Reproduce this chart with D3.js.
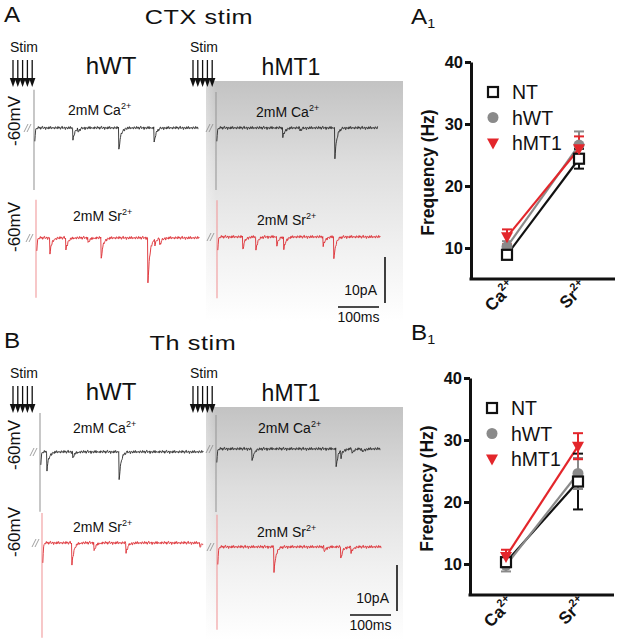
<!DOCTYPE html>
<html><head><meta charset="utf-8">
<script src="https://cdn.jsdelivr.net/npm/d3@7"></script>
<style>
body{margin:0;background:#fff;}
svg text{font-family:"Liberation Sans",Arial,Helvetica,sans-serif;}
</style></head>
<body>
<svg id="fig" width="618" height="640"></svg>
<script>
// ---------------- DATA ----------------
const categories = ["Ca", "Sr"];
const seriesNames = ["NT", "hWT", "hMT1"];
const yTicks = [10, 20, 30, 40];

// A1 (CTX stim) frequency, Hz
const a1NT = [8.9, 24.4];     const a1NTErr = [0.5, 1.6];
const a1hWT = [10.2, 26.6];   const a1hWTErr = [0.9, 2.2];
const a1hMT1 = [11.8, 26.0];  const a1hMT1Err = [1.2, 2.0];
// B1 (Th stim) frequency, Hz
const b1NT = [10.3, 23.3];    const b1NTErr = [0.6, 4.5];
const b1hWT = [9.8, 24.6];    const b1hWTErr = [1.0, 2.5];
const b1hMT1 = [11.2, 29.0];  const b1hMT1Err = [1.1, 2.1];

// example traces: events [time ms, amplitude pA]
const evA_hWT_Ca = [[95, 2.6], [107, 0.8], [207, 4.8], [293, 3.3]];
const evA_hWT_Sr = [[34, 3.3], [73, 2.6], [127, 1.1], [159, 4.6], [273, 9.8], [290, 1.2], [302, 1.5]];
const evA_hMT1_Ca = [[163, 2.2], [205, 0.6], [290, 6.5]];
const evA_hMT1_Sr = [[63, 2.8], [95, 2.8], [146, 1.8], [163, 2.8], [259, 2.2], [285, 4.8]];
const evB_hWT_Ca = [[17, 3.9], [80, 1.3], [193, 6.1]];
const evB_hWT_Sr = [[73, 4.8], [127, 1.8], [205, 2.2], [385, 0.9]];
const evB_hMT1_Ca = [[88, 2.8], [293, 4.1], [305, 1.5], [332, 1.0], [356, 0.8]];
const evB_hMT1_Sr = [[139, 5.4], [261, 1.1], [302, 2.6], [327, 1.3]];
// stimulus artifact [peak up pA, peak down pA], trace length ms
const artA_hWT_Ca = [8.3, -13.5];  const lenA_hWT_Ca = 400;
const artA_hWT_Sr = [8.3, -13.0];  const lenA_hWT_Sr = 398;
const artA_hMT1_Ca = [7.8, -13.5]; const lenA_hMT1_Ca = 395;
const artA_hMT1_Sr = [8.0, -13.3]; const lenA_hMT1_Sr = 398;
const artB_hWT_Ca = [8.5, -13.0];  const lenB_hWT_Ca = 398;
const artB_hWT_Sr = [6.5, -20.6];  const lenB_hWT_Sr = 393;
const artB_hMT1_Ca = [7.4, -13.7]; const lenB_hMT1_Ca = 400;
const artB_hMT1_Sr = [7.0, -18.0]; const lenB_hMT1_Sr = 400;
// baseline noise (pA), typed sample
const noise = [0.1, -0.2, 0.25, 0.05, -0.15, 0.3, -0.05, 0.2, -0.25, 0.1, 0.35, -0.1, 0.0, 0.2, -0.3, 0.15, 0.05, -0.2, 0.25, -0.1, 0.3, -0.15, 0.1, -0.05];
const stimPulses = [0, 1, 2, 3, 4];
const scaleBarPA = 10, scaleBarMs = 100;

// ---------------- DRAW ----------------
const svg = d3.select("#fig");
const defs = svg.append("defs");
const grad = defs.append("linearGradient").attr("id", "gbox").attr("x1", 0).attr("y1", 0).attr("x2", 0).attr("y2", 1);
grad.append("stop").attr("offset", "0%").attr("stop-color", "#c3c3c3");
grad.append("stop").attr("offset", "35%").attr("stop-color", "#dedede");
grad.append("stop").attr("offset", "70%").attr("stop-color", "#f1f1f1");
grad.append("stop").attr("offset", "100%").attr("stop-color", "#ffffff");
const gradL = defs.append("linearGradient").attr("id", "gedge").attr("x1", 0).attr("y1", 0).attr("x2", 1).attr("y2", 0);
gradL.append("stop").attr("offset", "0%").attr("stop-color", "#ffffff").attr("stop-opacity", 0.3);
gradL.append("stop").attr("offset", "100%").attr("stop-color", "#ffffff").attr("stop-opacity", 0);

const msScale = d3.scaleLinear().domain([0, scaleBarMs]).range([0, 41]);
const pAScale = d3.scaleLinear().domain([0, scaleBarPA]).range([0, 46]);

function txt(g, x, y, s, size, opts = {}) {
  const t = g.append("text").attr("font-size", size).attr("fill", opts.fill || "#111");
  if (opts.sx) t.attr("transform", `translate(${x},${y}) scale(${opts.sx},1)`);
  else t.attr("x", x).attr("y", y);
  if (opts.anchor) t.attr("text-anchor", opts.anchor);
  if (opts.weight) t.attr("font-weight", opts.weight);
  if (opts.ls) t.attr("letter-spacing", opts.ls);
  if (opts.transform) t.attr("transform", opts.transform);
  return t.text(s);
}
function supText(g, x, y, base, sup, size, supSize, opts = {}) {
  const t = g.append("text").attr("x", x).attr("y", y).attr("font-size", size).attr("fill", "#111");
  if (opts.weight) t.attr("font-weight", opts.weight);
  if (opts.anchor) t.attr("text-anchor", opts.anchor);
  if (opts.transform) t.attr("transform", opts.transform);
  t.append("tspan").text(base);
  t.append("tspan").attr("font-size", supSize).attr("dy", -size * 0.42).text(sup);
  return t;
}

function stim(g, x, y) {
  txt(g, x - 3, y - 4, "Stim", 14);
  stimPulses.forEach(i => {
    const xi = x + i * 4.8;
    g.append("line").attr("x1", xi).attr("x2", xi).attr("y1", y + 4).attr("y2", y + 23).attr("stroke", "#111").attr("stroke-width", 1.3);
    g.append("path").attr("d", `M${xi - 3.2},${y + 22} L${xi + 3.2},${y + 22} L${xi},${y + 31} Z`).attr("fill", "#111");
  });
}

function trace(g, x0, baseY, events, art, len, color, artColor) {
  const y = v => baseY + pAScale(-v);
  g.append("line").attr("x1", x0).attr("x2", x0).attr("y1", y(art[0])).attr("y2", y(art[1]))
    .attr("stroke", artColor).attr("stroke-width", 1.1);
  const pts = [];
  for (let t = 2; t <= len; t += 1) {
    let v = noise[Math.floor(t / 2) % noise.length];
    v += art[1] * 0.2 * Math.exp(-(t - 2) / 1.5);
    events.forEach(([te, a]) => {
      if (t >= te) v -= a * Math.exp(-(t - te) / 5);
    });
    pts.push([x0 + msScale(t), y(v)]);
  }
  g.append("path").attr("d", d3.line()(pts)).attr("fill", "none").attr("stroke", color).attr("stroke-width", 0.9);
  [-8, -5].forEach(dx => {
    g.append("line").attr("x1", x0 + dx - 2).attr("y1", baseY + 4).attr("x2", x0 + dx + 2).attr("y2", baseY - 4)
      .attr("stroke", "#888").attr("stroke-width", 0.8);
  });
}

function scaleBar(g, xRight, yTop) {
  g.append("line").attr("x1", xRight).attr("x2", xRight).attr("y1", yTop).attr("y2", yTop + pAScale(scaleBarPA))
    .attr("stroke", "#111").attr("stroke-width", 1.6);
  const yb = yTop + pAScale(scaleBarPA) + 4;
  g.append("line").attr("x1", xRight - 6 - msScale(scaleBarMs)).attr("x2", xRight - 6).attr("y1", yb).attr("y2", yb)
    .attr("stroke", "#111").attr("stroke-width", 1.6);
  txt(g, xRight - 8, yTop + 38, scaleBarPA + "pA", 14, { anchor: "end" });
  txt(g, xRight - 6 - msScale(scaleBarMs) / 2, yb + 15, scaleBarMs + "ms", 14, { anchor: "middle" });
}

function tracePanel(dy, letter, title, titleX, tr, boxH) {
  const g = svg.append("g");
  txt(g, 4, 22 + dy, letter, 22, { sx: 1.1 });
  txt(g, titleX, 24 + dy, title, 21, { anchor: "middle", sx: 1.2, ls: 0.5 });
  g.append("rect").attr("x", 206).attr("y", 81 + dy).attr("width", 197).attr("height", boxH).attr("fill", "url(#gbox)");
  g.append("rect").attr("x", 206).attr("y", 81 + dy).attr("width", 10).attr("height", boxH).attr("fill", "url(#gedge)");
  stim(g, 13, 56 + dy);
  stim(g, 193, 56 + dy);
  txt(g, 111, 74 + dy, "hWT", 24, { anchor: "middle" });
  txt(g, 291, 75 + dy, "hMT1", 23, { anchor: "middle" });
  tr.forEach(d => {
    trace(g, d.x0, d.y, d.ev, d.art, d.len, d.color, d.artColor);
    supText(g, d.tx, d.ty, d.label, d.sup, 14, 9);
  });
  txt(g, 0, 0, "-60mV", 17, { anchor: "middle", transform: `translate(20,${tr[0].y - 7}) rotate(-90)` });
  txt(g, 0, 0, "-60mV", 17, { anchor: "middle", transform: `translate(20,${tr[1].y - 11}) rotate(-90)` });
  return g;
}

const blk = "#2a2a2a", blkArt = "#9a9a9a", red = "#dd2a30", redArt = "#f09a9c";
const gA = tracePanel(0, "A", "CTX stim", 199, [
  { x0: 34, y: 128, ev: evA_hWT_Ca, art: artA_hWT_Ca, len: lenA_hWT_Ca, color: blk, artColor: blkArt, tx: 68, ty: 115, label: "2mM Ca", sup: "2+" },
  { x0: 36, y: 238, ev: evA_hWT_Sr, art: artA_hWT_Sr, len: lenA_hWT_Sr, color: red, artColor: redArt, tx: 73, ty: 221, label: "2mM Sr", sup: "2+" },
  { x0: 216, y: 128, ev: evA_hMT1_Ca, art: artA_hMT1_Ca, len: lenA_hMT1_Ca, color: blk, artColor: blkArt, tx: 256, ty: 117, label: "2mM Ca", sup: "2+" },
  { x0: 217, y: 237, ev: evA_hMT1_Sr, art: artA_hMT1_Sr, len: lenA_hMT1_Sr, color: red, artColor: redArt, tx: 257, ty: 225, label: "2mM Sr", sup: "2+" }
], 240);
scaleBar(gA, 385, 257);

const gB = tracePanel(326, "B", "Th stim", 193, [
  { x0: 40, y: 452, ev: evB_hWT_Ca, art: artB_hWT_Ca, len: lenB_hWT_Ca, color: blk, artColor: blkArt, tx: 73, ty: 433, label: "2mM Ca", sup: "2+" },
  { x0: 42, y: 543, ev: evB_hWT_Sr, art: artB_hWT_Sr, len: lenB_hWT_Sr, color: red, artColor: redArt, tx: 73, ty: 532, label: "2mM Sr", sup: "2+" },
  { x0: 216, y: 449, ev: evB_hMT1_Ca, art: artB_hMT1_Ca, len: lenB_hMT1_Ca, color: blk, artColor: blkArt, tx: 258, ty: 433, label: "2mM Ca", sup: "2+" },
  { x0: 217, y: 547, ev: evB_hMT1_Sr, art: artB_hMT1_Sr, len: lenB_hMT1_Sr, color: red, artColor: redArt, tx: 257, ty: 537, label: "2mM Sr", sup: "2+" }
], 233);
scaleBar(gB, 397, 565);

// ---------------- LINE CHARTS ----------------
const colors = { NT: "#111", hWT: "#8a8a8a", hMT1: "#e3262b" };
const catLabels = { Ca: ["Ca", "2+"], Sr: ["Sr", "2+"] };

function freqChart(letter, top, axisX, data) {
  const g = svg.append("g");
  const bottom = top + 217;
  const y = d3.scaleLinear().domain([5, 40]).range([bottom, top]);
  const x = d3.scalePoint().domain(categories).range([axisX, axisX + 144]).padding(0.5);
  const lt = g.append("text").attr("transform", `translate(411,${top - 38}) scale(1.1,1)`).attr("font-size", 22).attr("fill", "#111");
  lt.append("tspan").text(letter);
  lt.append("tspan").attr("font-size", 13).attr("dy", 4).text("1");

  const ya = g.append("g").attr("transform", `translate(${axisX},0)`)
    .call(d3.axisLeft(y).tickValues(yTicks).tickSize(6).tickSizeOuter(0));
  ya.select(".domain").attr("stroke", "#111").attr("stroke-width", 3);
  ya.selectAll(".tick line").attr("stroke", "#111").attr("stroke-width", 3);
  ya.selectAll(".tick text").attr("font-size", 16.5).attr("font-weight", "bold").attr("fill", "#111")
    .attr("font-family", "'Liberation Sans', Arial, sans-serif").attr("x", -8);

  const xa = g.append("g").attr("transform", `translate(0,${bottom})`)
    .call(d3.axisBottom(x).tickSize(0).tickSizeOuter(0).tickFormat(""));
  xa.select(".domain").attr("stroke", "#111").attr("stroke-width", 3).attr("d", `M${axisX - 1.5},0H${axisX + 144}`);
  categories.forEach(c => {
    supText(g, 0, 0, catLabels[c][0], catLabels[c][1], 17, 11,
      { weight: "bold", anchor: "end", transform: `translate(${x(c) + 9},${bottom + 9}) rotate(-45)` });
  });

  txt(g, 0, 0, "Frequency (Hz)", 17.5, { weight: "bold", anchor: "middle", transform: `translate(${axisX - 37},${(top + bottom) / 2 + 2}) rotate(-90)` });

  const line = d3.line().x(d => x(d.c)).y(d => y(d.v));
  const order = ["NT", "hWT", "hMT1"];
  order.forEach(s => {
    const vals = data[s].m.map((v, i) => ({ c: categories[i], v }));
    g.append("path").attr("d", line(vals)).attr("fill", "none").attr("stroke", colors[s]).attr("stroke-width", 2.2);
  });
  order.forEach(s => {
    data[s].m.forEach((v, i) => {
      const cx = x(categories[i]), e = data[s].e[i];
      g.append("line").attr("x1", cx).attr("x2", cx).attr("y1", y(v - e)).attr("y2", y(v + e)).attr("stroke", colors[s]).attr("stroke-width", 2);
      [v - e, v + e].forEach(w => g.append("line").attr("x1", cx - 5).attr("x2", cx + 5).attr("y1", y(w)).attr("y2", y(w)).attr("stroke", colors[s]).attr("stroke-width", 2));
    });
  });
  const drawMarker = (s, cx, cy, gg) => {
    if (s === "NT") gg.append("rect").attr("x", cx - 5).attr("y", cy - 5).attr("width", 10).attr("height", 10).attr("fill", "#fff").attr("stroke", "#111").attr("stroke-width", 2.2);
    else if (s === "hWT") gg.append("circle").attr("cx", cx).attr("cy", cy).attr("r", 5.5).attr("fill", colors.hWT);
    else gg.append("path").attr("d", `M${cx - 6},${cy - 4.5} L${cx + 6},${cy - 4.5} L${cx},${cy + 6.5} Z`).attr("fill", colors.hMT1);
  };
  ["hWT", "NT", "hMT1"].forEach(s => data[s].m.forEach((v, i) => drawMarker(s, x(categories[i]), y(v), g)));
  seriesNames.forEach((s, i) => {
    const ly = top + 30 + i * 25.5;
    drawMarker(s, axisX + 22, ly, g);
    txt(g, axisX + 41, ly + 7, s, 19.5);
  });
}

freqChart("A", 62, 471, { NT: { m: a1NT, e: a1NTErr }, hWT: { m: a1hWT, e: a1hWTErr }, hMT1: { m: a1hMT1, e: a1hMT1Err } });
freqChart("B", 378, 470, { NT: { m: b1NT, e: b1NTErr }, hWT: { m: b1hWT, e: b1hWTErr }, hMT1: { m: b1hMT1, e: b1hMT1Err } });
</script>
</body></html>
